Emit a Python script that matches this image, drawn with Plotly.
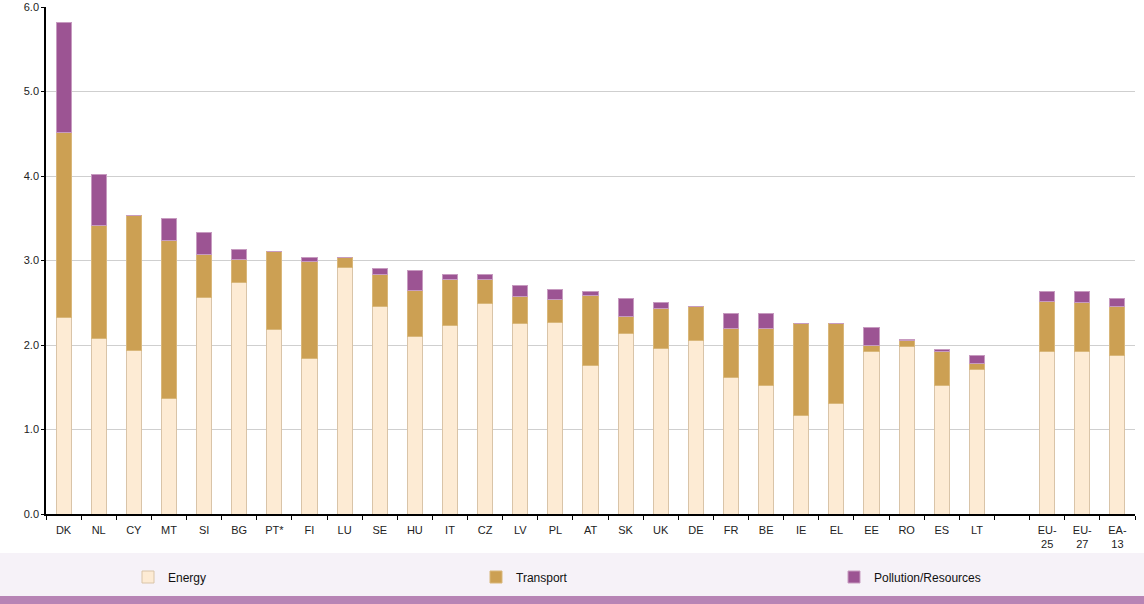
import plotly.graph_objects as go

categories = ["DK", "NL", "CY", "MT", "SI", "BG", "PT*", "FI", "LU", "SE", "HU", "IT", "CZ", "LV", "PL",
              "AT", "SK", "UK", "DE", "FR", "BE", "IE", "EL", "EE", "RO", "ES", "LT", " ",
              "EU-<br>25", "EU-<br>27", "EA-<br>13"]

energy = [2.32, 2.08, 1.93, 1.37, 2.56, 2.74, 2.18, 1.84, 2.92, 2.45, 2.10, 2.23, 2.49, 2.25, 2.27,
          1.76, 2.14, 1.96, 2.05, 1.61, 1.52, 1.16, 1.31, 1.92, 1.98, 1.52, 1.71, None,
          1.92, 1.92, 1.87]
transport = [2.20, 1.33, 1.60, 1.87, 0.51, 0.27, 0.93, 1.15, 0.12, 0.38, 0.55, 0.54, 0.28, 0.32, 0.27,
             0.83, 0.20, 0.47, 0.41, 0.58, 0.67, 1.10, 0.95, 0.08, 0.07, 0.40, 0.07, None,
             0.60, 0.58, 0.58]
pollution = [1.30, 0.61, 0.00, 0.26, 0.26, 0.12, 0.00, 0.05, 0.00, 0.07, 0.23, 0.06, 0.06, 0.13, 0.12,
             0.04, 0.21, 0.07, 0.00, 0.18, 0.18, 0.00, 0.00, 0.21, 0.01, 0.03, 0.10, None,
             0.11, 0.13, 0.10]

# plot area in pixels: x 46..1135, y 7..514
L, R, T, B, W, H = 46, 9, 7, 90, 1144, 604
PW = W - L - R
PH = H - T - B


def px_x(px):
    return (px - L) / PW


def px_y(py):
    return (H - B - py) / PH


fig = go.Figure()
fig.add_trace(go.Bar(name="Energy", x=categories, y=energy, legend="legend",
                     marker=dict(color="#fdebd4", line=dict(color="#d9c4a8", width=1))))
fig.add_trace(go.Bar(name="Transport", x=categories, y=transport, legend="legend2",
                     marker=dict(color="#cca053", line=dict(color="#d9b77a", width=1))))
fig.add_trace(go.Bar(name="Pollution/Resources", x=categories, y=pollution, legend="legend3",
                     marker=dict(color="#9c5493", line=dict(color="#c79bc0", width=1))))

legend_common = dict(orientation="h", yanchor="middle", xanchor="left", bgcolor="rgba(0,0,0,0)",
                     font=dict(size=12, color="#111111"), itemwidth=30)

fig.update_layout(
    barmode="stack",
    bargap=0.57,
    width=W, height=H,
    margin=dict(l=L, r=R, t=T, b=B, autoexpand=False),
    paper_bgcolor="white", plot_bgcolor="white",
    font=dict(family="Liberation Sans, Arial, sans-serif", size=11, color="#222222"),
    showlegend=True,
    legend=dict(x=px_x(128), y=px_y(577), **legend_common),
    legend2=dict(x=px_x(476), y=px_y(577), **legend_common),
    legend3=dict(x=px_x(834), y=px_y(577), **legend_common),
    shapes=[
        dict(type="rect", xref="paper", yref="paper", x0=px_x(0), x1=px_x(W), y0=px_y(553), y1=px_y(596),
             fillcolor="#f6f2f8", line=dict(width=0), layer="below"),
        dict(type="rect", xref="paper", yref="paper", x0=px_x(0), x1=px_x(W), y0=px_y(596), y1=px_y(604),
             fillcolor="#b784b5", line=dict(width=0), layer="below"),
    ],
)
fig.update_xaxes(type="category", tickson="boundaries", ticks="outside", ticklen=4, tickcolor="#000000",
                 showline=True, linecolor="#000000", linewidth=1.5, tickangle=0, ticklabelstandoff=5,
                 tickfont=dict(size=11, color="#222222"), showgrid=False, automargin=False)
fig.update_yaxes(range=[0, 6], dtick=1, tickformat=".1f", showgrid=True, gridcolor="#cfcfcf", gridwidth=1,
                 showline=True, linecolor="#000000", linewidth=1.5, ticks="outside", ticklen=3,
                 tickcolor="#000000", tickfont=dict(size=11, color="#222222"), zeroline=False,
                 automargin=False)

fig.write_html("out.html", config={"displayModeBar": False},
               post_script="document.body.style.margin='0';document.body.style.overflow='hidden';")
